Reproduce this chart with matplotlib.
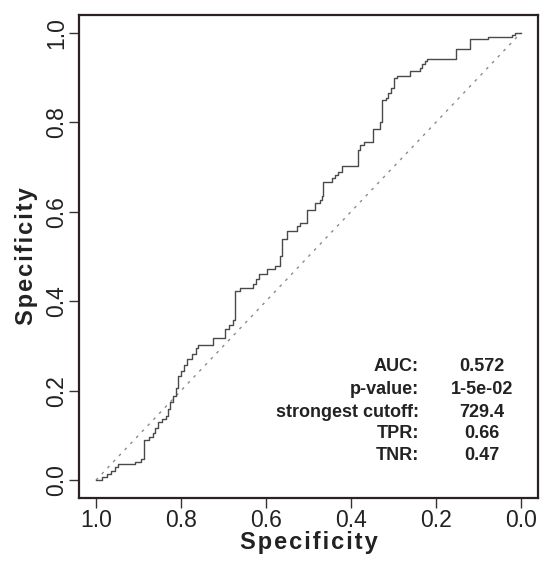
import matplotlib
matplotlib.use("Agg")
import matplotlib.pyplot as plt

# roc curve (specificity, sensitivity at each step)
spec = [1.000, 0.985, 0.975, 0.965, 0.955, 0.948, 0.908, 0.895, 0.888, 0.875,
        0.866, 0.860, 0.853, 0.845, 0.835, 0.830, 0.826, 0.818, 0.812, 0.808,
        0.800, 0.792, 0.785, 0.775, 0.765, 0.759, 0.725, 0.696, 0.686, 0.677,
        0.673, 0.661, 0.630, 0.623, 0.616, 0.598, 0.579, 0.567, 0.563, 0.550,
        0.528, 0.520, 0.504, 0.485, 0.473, 0.467, 0.465, 0.445, 0.437, 0.430,
        0.422, 0.383, 0.378, 0.370, 0.348, 0.332, 0.326, 0.318, 0.312, 0.305,
        0.298, 0.292, 0.262, 0.238, 0.232, 0.226, 0.222, 0.153, 0.119, 0.077,
        0.022, 0.014, 0.000]
sens = [0.000, 0.007, 0.014, 0.021, 0.030, 0.036, 0.040, 0.047, 0.090, 0.096,
        0.105, 0.116, 0.129, 0.137, 0.144, 0.160, 0.175, 0.188, 0.205, 0.233,
        0.245, 0.258, 0.270, 0.283, 0.296, 0.301, 0.318, 0.337, 0.347, 0.358,
        0.423, 0.430, 0.438, 0.449, 0.460, 0.471, 0.478, 0.500, 0.538, 0.556,
        0.568, 0.575, 0.603, 0.620, 0.627, 0.636, 0.667, 0.676, 0.683, 0.690,
        0.703, 0.737, 0.750, 0.756, 0.785, 0.800, 0.849, 0.854, 0.865, 0.877,
        0.900, 0.904, 0.914, 0.922, 0.930, 0.936, 0.942, 0.964, 0.987, 0.990,
        0.996, 1.000, 1.000]

stat_names = ["AUC:", "p-value:", "strongest cutoff:", "TPR:", "TNR:"]
stat_values = ["0.572", "1-5e-02", "729.4", "0.66", "0.47"]
ticks = [0.0, 0.2, 0.4, 0.6, 0.8, 1.0]

plt.rcParams["font.family"] = ["Liberation Sans", "DejaVu Sans"]

fig = plt.figure(figsize=(5.43, 5.61), dpi=100)
ax = fig.add_axes([0.1455, 0.1123, 0.845, 0.861])

ax.plot([1, 0], [0, 1], color="#8a8a8a", lw=1, dashes=(2, 4))
ax.plot(spec, sens, drawstyle="steps-post", color="#4a4a4a", lw=1)

ax.set_xlim(1.04, -0.04)
ax.set_ylim(-0.04, 1.04)
ax.set_xticks(ticks)
ax.set_yticks(ticks)
ax.set_xticklabels(["%.1f" % t for t in ticks], fontsize=16.5, color="#222222")
ax.set_yticklabels(["%.1f" % t for t in ticks], fontsize=16.5, color="#222222",
                   rotation=90, va="center")
ax.tick_params(length=7, width=1, color="#333333")
ax.tick_params(axis="x", pad=1)
ax.tick_params(axis="y", pad=1)
for s in ax.spines.values():
    s.set_linewidth(1.6)
    s.set_color("#2a2222")

label = "\u200a".join("Specificity")
ax.set_xlabel(label, fontsize=17, fontweight="bold", color="#222222", labelpad=-1)
ax.set_ylabel(label, fontsize=17, fontweight="bold", color="#222222", labelpad=5)

row_y = [0.253, 0.202, 0.152, 0.105, 0.056]
for name, val, y in zip(stat_names, stat_values, row_y):
    ax.text(0.24, y, name, ha="right", va="center", fontsize=13,
            fontweight="bold", color="#222222")
    ax.text(0.092, y, val, ha="center", va="center", fontsize=13,
            fontweight="bold", color="#222222")

fig.savefig("out.png", dpi=100)
